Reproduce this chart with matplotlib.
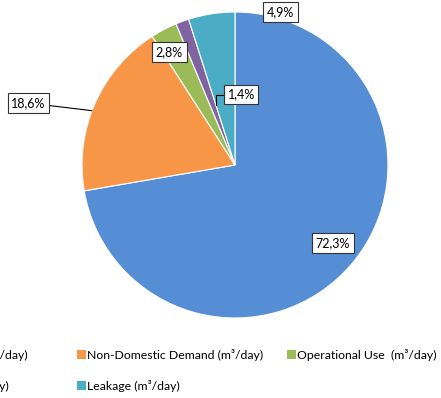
import matplotlib.pyplot as plt
from matplotlib.patches import Patch

# data
labels = ['Domestic Demand (m³/day)', 'Non-Domestic Demand (m³/day)',
          'Operational Use  (m³/day)', 'Unbilled Usage (m³/day)',
          'Leakage (m³/day)']
shares = [72.3, 18.6, 2.8, 1.4, 4.9]
colors = ['#558ED5', '#F79646', '#9BBB59', '#8064A2', '#4BACC6']

# label box positions (in pie units, radius = 1) and leader points
label_pos = [(0.64, -0.51), (-1.35, 0.405), (-0.43, 0.74), (0.04, 0.46), (0.295, 1.0)]
leader_to = [None, (-0.935, 0.355), None, (-0.125, 0.39), None]

plt.rcParams['font.family'] = ['Lato', 'DejaVu Sans']

W, H = 441, 398
fig = plt.figure(figsize=(W / 100, H / 100), dpi=100)
cx, cy, r = 235, 165, 153
ax = fig.add_axes([(cx - r) / W, 1 - (cy + r) / H, 2 * r / W, 2 * r / H])

wedges, _ = ax.pie(shares, colors=colors, startangle=90, counterclock=False,
                   wedgeprops=dict(edgecolor='white', linewidth=0.8))
ax.set_xlim(-1, 1)
ax.set_ylim(-1, 1)
ax.set_aspect('equal')
ax.axis('off')

box = dict(boxstyle='square,pad=0.3', fc='white', ec='#333333', lw=0.8)
for i, (v, pos, tgt) in enumerate(zip(shares, label_pos, leader_to)):
    txt = f'{v:.1f}%'.replace('.', ',')
    if tgt is None:
        ax.text(pos[0], pos[1], txt, ha='center', va='center', fontsize=9,
                bbox=box, clip_on=False)
    else:
        cs = 'angle,angleA=0,angleB=90,rad=0' if i == 3 else 'arc3'
        ax.annotate(txt, xy=tgt, xytext=pos, ha='center', va='center',
                    fontsize=9, bbox=box, annotation_clip=False,
                    arrowprops=dict(arrowstyle='-', color='black', lw=0.8,
                                    shrinkA=0, shrinkB=0, connectionstyle=cs))

# legend, one column at a time so the columns sit where the reference has them
handles = [Patch(facecolor=c) for c in colors]
cols = [([0, 3], -131), ([1, 4], 77), ([2], 287)]
for idx, x0 in cols:
    leg = fig.legend([handles[i] for i in idx], [labels[i] for i in idx],
                     loc='upper left', bbox_to_anchor=(x0 / W, 1 - 349 / H),
                     frameon=False, fontsize=8.8, handlelength=0.7,
                     handleheight=0.7, handletextpad=0.1, borderpad=0,
                     borderaxespad=0, labelspacing=1.55)

fig.savefig('out.png', dpi=100)
